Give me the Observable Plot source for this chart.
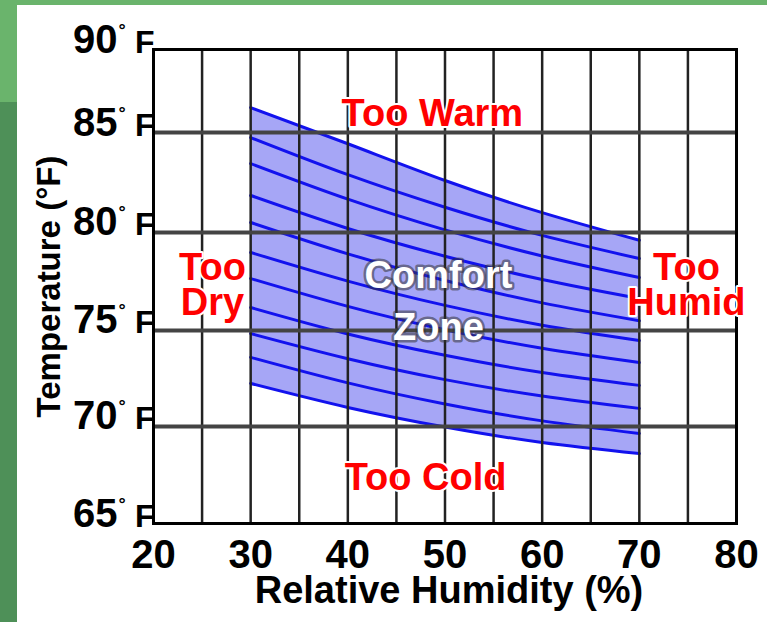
<!DOCTYPE html>
<html>
<head>
<meta charset="utf-8">
<script src="https://cdn.jsdelivr.net/npm/d3@7"></script>
<script src="https://cdn.jsdelivr.net/npm/@observablehq/plot@0.6"></script>
<style>
  body { margin: 0; background: #fff; }
  #wrap { position: relative; width: 767px; height: 622px; background: #fff; overflow: hidden; }
  .g { position: absolute; }
  #chart { position: absolute; left: 17px; top: 5px; }
</style>
</head>
<body>
<div id="wrap">
  <div class="g" style="left:0;top:0;width:767px;height:5px;background:#6ab46c"></div>
  <div class="g" style="left:0;top:0;width:17px;height:102px;background:#6ab46c"></div>
  <div class="g" style="left:0;top:102px;width:17px;height:520px;background:#4e9058"></div>
  <div id="chart"></div>
</div>
<script>
// Relative humidity (%) at which each comfort-zone line was read
const humidity = [30, 40, 50, 60, 70];
// Temperatures (°F) of the comfort-zone lines, top (upper bound) to bottom (lower bound)
const isotherms = [
  [86.5, 84.44, 82.6, 80.99, 79.6],
  [84.75, 82.89, 81.26, 79.85, 78.67],
  [83.45, 81.67, 80.13, 78.8, 77.7],
  [81.85, 80.2, 78.79, 77.6, 76.63],
  [80.5, 78.91, 77.55, 76.41, 75.5],
  [78.98, 77.52, 76.28, 75.27, 74.48],
  [77.65, 76.23, 75.04, 74.07, 73.33],
  [76.17, 74.82, 73.71, 72.81, 72.14],
  [74.84, 73.53, 72.44, 71.58, 70.94],
  [73.6, 72.27, 71.17, 70.29, 69.64],
  [72.24, 70.99, 69.97, 69.17, 68.6]
];
const xTicks = [20, 30, 40, 50, 60, 70, 80];
const yTicks = [65, 70, 75, 80, 85, 90];
const xGrid = [25, 30, 35, 40, 45, 50, 55, 60, 65, 70, 75];
const yGrid = [70, 75, 80, 85];
// the original temperature axis is slightly uneven (top band narrower)
const yBandPositions = [65, 70.12, 75.18, 80.35, 85.62, 90];
const zoneLabels = [
  {text: "Too Warm", rh: 48.7, temp: 85.42},
  {text: "Too Cold", rh: 48.0, temp: 66.7},
  {text: "Too\nDry", rh: 26.07, temp: 75.77},
  {text: "Too\nHumid", rh: 74.85, temp: 75.77}
];
const comfortLabel = [{text: "Comfort\nZone", rh: 49.33, temp: 74.48}];

const lineRows = isotherms.flatMap((temps, i) => temps.map((t, j) => ({line: i, rh: humidity[j], t})));
const band = humidity.map((h, j) => ({rh: h, lo: isotherms[isotherms.length - 1][j], hi: isotherms[0][j]}));
const warp = d3.scaleLinear().domain(yTicks).range(yBandPositions);

const font = "'Liberation Sans', Arial, Helvetica, sans-serif";

const chart = Plot.plot({
  width: 750,
  height: 617,
  marginLeft: 136,
  marginRight: 31,
  marginTop: 44,
  marginBottom: 99,
  style: {background: "white", fontFamily: font},
  x: {domain: [20, 80], axis: null},
  y: {domain: [65, 90], transform: d => warp(d), axis: null},
  marks: [
    Plot.areaY(band, {x: "rh", y1: "lo", y2: "hi", fill: "#a6a6f6", curve: "natural"}),
    Plot.line(lineRows, {x: "rh", y: "t", z: "line", stroke: "#1212ee", strokeWidth: 3, curve: "natural"}),
    Plot.ruleX(xGrid, {x: d => d, stroke: "#222", strokeWidth: 2.5}),
    Plot.ruleY(yGrid, {y: d => d, stroke: "#444", strokeWidth: 4}),
    Plot.frame({stroke: "black", strokeWidth: 3}),
    // y tick labels
    Plot.text(yTicks, {frameAnchor: "left", y: d => d, text: d => String(d), textAnchor: "end", lineAnchor: "bottom", dx: -36, dy: 3, fontSize: 40, fontWeight: "bold", fill: "black"}),
    Plot.text(yTicks, {frameAnchor: "left", y: d => d, text: () => "°", textAnchor: "start", lineAnchor: "bottom", dx: -35, dy: -14, fontSize: 18, fontWeight: "bold", fill: "black"}),
    Plot.text(yTicks, {frameAnchor: "left", y: d => d, text: () => "F", textAnchor: "end", lineAnchor: "bottom", dx: 1, dy: 3, fontSize: 32, fontWeight: "bold", fill: "black"}),
    // x tick labels
    Plot.text(xTicks, {x: d => d, frameAnchor: "bottom", text: d => String(d), lineAnchor: "bottom", dy: 44, fontSize: 40, fontWeight: "bold", fill: "black"}),
    // axis titles
    Plot.text(["Relative Humidity (%)"], {frameAnchor: "bottom", text: d => d, textAnchor: "middle", lineAnchor: "bottom", dx: 4, dy: 79, fontSize: 38, fontWeight: "bold", fill: "black"}),
    Plot.text(["Temperature (°F)"], {frameAnchor: "left", text: d => d, rotate: -90, textAnchor: "middle", lineAnchor: "bottom", dx: -94, fontSize: 33, fontWeight: "bold", fill: "black"}),
    // zone labels
    Plot.text(zoneLabels, {x: "rh", y: "temp", text: "text", lineAnchor: "bottom", lineHeight: 0.92, fontSize: 38, fontWeight: "bold", fill: "#ff0000", stroke: "white", strokeWidth: 4}),
    Plot.text(comfortLabel, {x: "rh", y: "temp", text: "text", lineAnchor: "bottom", lineHeight: 1.37, fontSize: 38, fontWeight: "bold", fill: "white", stroke: "#333", strokeOpacity: 0.55, strokeWidth: 5})
  ]
});
document.getElementById("chart").appendChild(chart);
</script>
</body>
</html>
